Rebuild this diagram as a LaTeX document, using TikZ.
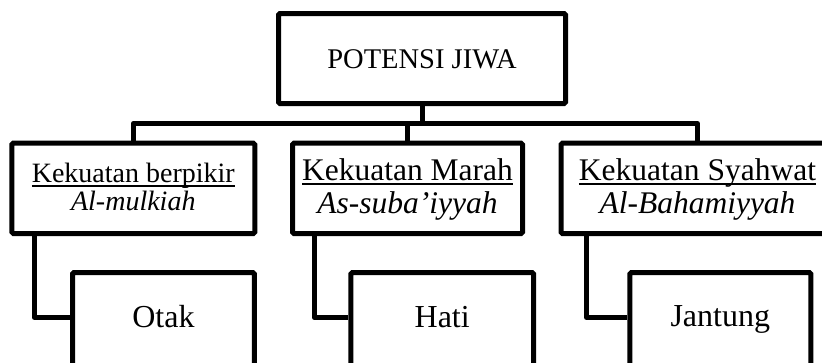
\documentclass[tikz,border=0pt]{standalone}
\usepackage{fontspec}
\setmainfont{Liberation Serif}
\newcommand\myul[1]{\setbox0=\hbox{#1}\leavevmode\rlap{\rule[-4.3pt]{\wd0}{1.4pt}}\box0}
\begin{document}
\begin{tikzpicture}[x=1pt,y=-1pt,
  box/.style={draw, line width=5pt, rounded corners=1.5pt, inner sep=0pt, anchor=base},
  conn/.style={line width=5pt, line join=round},
  big/.style={font=\fontsize{31.5}{33}\selectfont},
]
\useasboundingbox (0,0) rectangle (822,362);
\clip (0,0) rectangle (822,362);
\node[box, minimum width=287pt, text height=54.8pt, text depth=35.2pt,
      font=\fontsize{28.5}{30}\selectfont] (top) at (422,68.3) {POTENSI JIWA};
\node[box, minimum width=243pt, text height=66.8pt, text depth=23.5pt,
      font=\fontsize{28}{27.5}\selectfont] (b1) at (133.3,210)
  {\begin{tabular}[b]{@{}c@{}}\myul{Kekuatan berpikir}\\ \itshape Al-mulkiah\end{tabular}};
\node[box, big, minimum width=230pt, text height=70.1pt, text depth=20.2pt] (b2) at (407.5,213.3)
  {\begin{tabular}[b]{@{}c@{}}\myul{Kekuatan Marah}\\ \itshape As-suba’iyyah\end{tabular}};
\node[box, big, minimum width=273pt, text height=70.1pt, text depth=20.2pt] (b3) at (697.5,213.3)
  {\begin{tabular}[b]{@{}c@{}}\myul{Kekuatan Syahwat}\\ \itshape Al-Bahamiyyah\end{tabular}};
\node[box, minimum width=181.8pt, text height=54.8pt, text depth=42.7pt,
      font=\fontsize{32}{34}\selectfont] (c1) at (163.4,327.3) {Otak};
\node[box, minimum width=182.7pt, text height=54.8pt, text depth=42.7pt,
      font=\fontsize{32}{34}\selectfont] (c2) at (442.2,327.3) {Hati};
\node[box, minimum width=181pt, text height=54pt, text depth=43.5pt,
      font=\fontsize{32}{34}\selectfont] (c3) at (720.3,326.5) {Jantung};
\coordinate (bus) at (0,123.5);
\draw[conn] (top.south) -- (top.south |- bus);
\draw[conn] (b1.north) -- (b1.north |- bus) -- (b3.north |- bus) -- (b3.north);
\draw[conn] (b2.north) -- (b2.north |- bus);
\draw[conn] ([xshift=25pt]b1.south west) |- ([yshift=3.75pt]c1.west);
\draw[conn] ([xshift=24.2pt]b2.south west) |- ([yshift=3.75pt]c2.west);
\draw[conn] ([xshift=28pt]b3.south west) |- ([yshift=3.75pt]c3.west);
\end{tikzpicture}
\end{document}
